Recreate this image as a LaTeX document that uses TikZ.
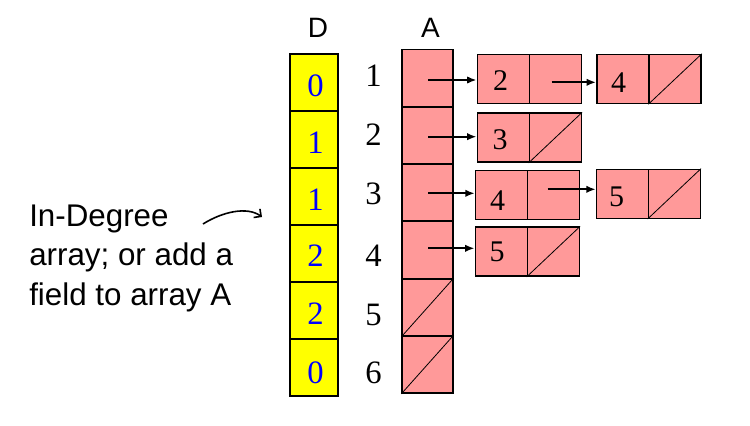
\documentclass[tikz,border=0pt]{standalone}
\usepackage{fontspec}
\setmainfont{Liberation Serif}
\setsansfont{Liberation Sans}
\usetikzlibrary{arrows.meta}
\definecolor{dyel}{RGB}{255,255,0}
\definecolor{apink}{RGB}{255,153,153}
\definecolor{dblue}{RGB}{0,0,255}
\begin{document}
\begin{tikzpicture}[x=0.75pt,y=-0.75pt,
  dcell/.style={draw=black,line width=1.1pt,fill=dyel,minimum width=36pt,minimum height=42.75pt,inner sep=0pt},
  acell/.style={draw=black,line width=1.1pt,fill=apink,minimum width=38.25pt,minimum height=43pt,inner sep=0pt},
  lcell/.style={draw=black,line width=1.1pt,fill=apink,minimum width=39pt,minimum height=36.75pt,inner sep=0pt},
  dnum/.style={font=\fontsize{24.5pt}{24.5pt}\selectfont,text=dblue,inner sep=0pt},
  inum/.style={font=\fontsize{24.5pt}{24.5pt}\selectfont,text=black,inner sep=0pt},
  lnum/.style={font=\fontsize{22.5pt}{22.5pt}\selectfont,text=black,inner sep=0pt},
  head/.style={font=\sffamily\fontsize{21pt}{21pt}\selectfont,inner sep=0pt},
  arr/.style={line width=1.5pt,-{Latex[length=7pt,width=5.5pt]}},
  nil/.style={line width=0.6pt}]
\useasboundingbox (0,0) rectangle (750,425);
% headers
\node[head] (hD) at (318,28) {D};
\node[head] (hA) at (430.5,28) {A};
% D column
\foreach \i/\y in {1/82.5,2/139.5,3/196.5,4/253.5,5/310.5,6/367.5}
  \node[dcell] (d\i) at (314,\y) {};
\node[dnum] (dn1) at (315.5,85.5) {0};
\node[dnum] (dn2) at (315.5,142.5) {1};
\node[dnum] (dn3) at (315.5,200) {1};
\node[dnum] (dn4) at (315.5,255.8) {2};
\node[dnum] (dn5) at (315.5,314) {2};
\node[dnum] (dn6) at (315.5,373) {0};
% index labels
\node[inum] (i1) at (373.5,75.5) {1};
\node[inum] (i2) at (373.5,135) {2};
\node[inum] (i3) at (373.5,193.5) {3};
\node[inum] (i4) at (373.5,255.5) {4};
\node[inum] (i5) at (373.5,314.5) {5};
\node[inum] (i6) at (373.5,373) {6};
% A column
\foreach \i/\y in {1/78,2/135.5,3/192.5,4/250,5/307.5,6/364.5}
  \node[acell] (a\i) at (427.5,\y) {};
\draw[nil] (a5.south west) -- (a5.north east);
\draw[nil] (a6.south west) -- (a6.north east);
% list nodes
\node[lcell] (l1a) at (503.3,79) {};
\node[lcell] (l1b) at (555.3,79) {};
\node[lcell] (l1c) at (622.8,79) {};
\node[lcell] (l1d) at (675.1,79) {};
\node[lcell] (l2a) at (503.3,137.7) {};
\node[lcell] (l2b) at (555.3,137.7) {};
\node[lcell] (l3a) at (501.5,194.8) {};
\node[lcell] (l3b) at (553.5,194.8) {};
\node[lcell] (l3c) at (622.5,193.8) {};
\node[lcell] (l3d) at (674.3,193.8) {};
\node[lcell] (l4a) at (501.3,251.7) {};
\node[lcell] (l4b) at (553.3,251.7) {};
\draw[nil] (l1d.south west) -- (l1d.north east);
\draw[nil] (l2b.south west) -- (l2b.north east);
\draw[nil] (l3d.south west) -- (l3d.north east);
\draw[nil] (l4b.south west) -- (l4b.north east);
\node[lnum] (n1a) at (500.5,80.5) {2};
\node[lnum] (n1c) at (618.7,82.5) {4};
\node[lnum] (n2a) at (500,139.7) {3};
\node[lnum] (n3a) at (497.5,201) {4};
\node[lnum] (n3c) at (616.7,196.7) {5};
\node[lnum] (n4a) at (497,251.7) {5};
% arrow starts
\coordinate (s1) at (428,80);
\coordinate (s2) at (428,136.7);
\coordinate (s3) at (428,193.3);
\coordinate (s4) at (428,248.3);
\coordinate (t1) at (551.7,82.3);
\coordinate (t3) at (547.7,189.3);
\draw[arr] (s1) -- (s1 -| l1a.west);
\draw[arr] (s2) -- (s2 -| l2a.west);
\draw[arr] (s3) -- (s3 -| l3a.west);
\draw[arr] (s4) -- (s4 -| l4a.west);
\draw[arr] (t1) -- (t1 -| l1c.west);
\draw[arr] (t3) -- (t3 -| l3c.west);
% text
\node[font=\sffamily\fontsize{23.5pt}{29.6pt}\selectfont,align=left,anchor=base west,inner sep=0pt] (txt) at (29,305)
  {In-Degree\\array; or add a\\field to array A};
\coordinate (c0) at (203,224);
\coordinate (c1) at (262,217);
\draw[line width=1.2pt,-{Straight Barb[length=4pt,width=8pt]}] (c0) .. controls (222,212) and (247,206) .. (c1);
\end{tikzpicture}
\end{document}
